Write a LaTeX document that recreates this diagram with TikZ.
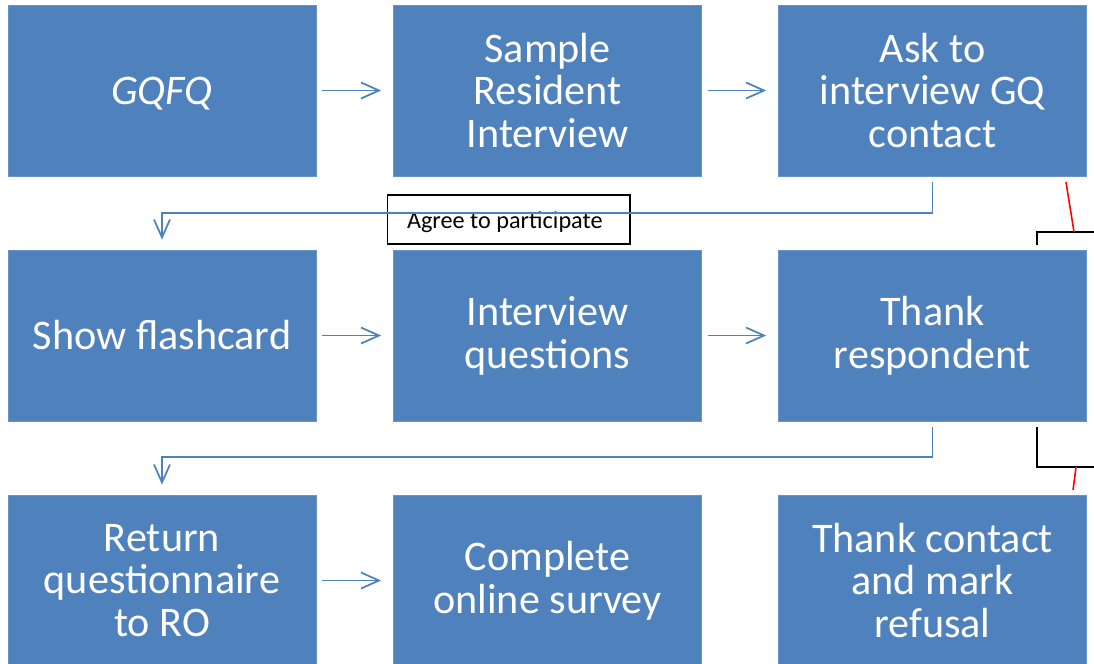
\documentclass[tikz,border=0pt]{standalone}
\usepackage{fontspec}
\setmainfont{Carlito}
\usetikzlibrary{arrows.meta}
\definecolor{boxblue}{HTML}{4F81BD}
\tikzset{
	stepbox/.style={rectangle, fill=boxblue, draw=boxblue!85!white, text=white, inner sep=0pt,
		minimum width=6.16cm, minimum height=3.42cm, align=center,
		font=\fontsize{24}{24.4}\selectfont},
	flow/.style={draw=boxblue, line width=1pt, -{Straight Barb[length=3.6mm,width=3.2mm]}},
	across/.style={flow, shorten <=0.12cm, shorten >=0.24cm},
	down/.style={flow, shorten <=0.12cm, shorten >=0.2cm},
	stray/.style={line width=0.9pt}
}

\begin{document}
\begin{tikzpicture}[x=0.02cm,y=-0.02cm]
	\useasboundingbox (0,0) rectangle (1094,663);
	\clip (0,0) rectangle (1094,663);
	% first row
	\node[stepbox] (gqfq) at (162,90.5) {\raisebox{-0.07cm}[\height][\depth]{\itshape GQFQ}};
	\node[stepbox] (sample) at (547.5,90.5) {Sample\\Resident\\Interview};
	\node[stepbox] (ask) at (932.5,90.5) {Ask to\\interview GQ\\contact};
	% second row
	\node[stepbox] (flash) at (162,335.5) {Show flashcard};
	\node[stepbox] (interview) at (547.5,335.5) {Interview\\questions};
	\node[stepbox] (thank) at (932.5,335.5) {Thank\\respondent};
	% third row
	\node[stepbox] (return) at (162,580.5) {Return\\questionnaire\\to RO};
	\node[stepbox] (online) at (547.5,580.5) {Complete\\online survey};
	\node[stepbox] (refusal) at (932.5,580.5) {Thank contact\\and mark\\refusal};
	% label on the first bend
	\node[draw=black, line width=0.6pt, minimum height=0.98cm, inner xsep=0.4cm,
		text width=4.06cm, align=flush left, text height=0.44cm, text depth=0.1cm, inner ysep=0pt,
		font=\fontsize{13.8}{16}\selectfont] (agree) at (508.5,219.5) {Agree to participate};
	% arrows along the rows
	\draw[across] (gqfq) -- (sample);
	\draw[across] (sample) -- (ask);
	\draw[across] (flash) -- (interview);
	\draw[across] (interview) -- (thank);
	\draw[across] (return) -- (online);
	% arrows down to the next row
	\draw[down] (ask.south) -- ++(0,37) -| (flash.north);
	\draw[down] (thank.south) -- ++(0,36) -| (return.north);
	% stray bits on the right
	\coordinate (topfoot) at (1037,245);
	\coordinate (botfoot) at (1037,427);
	\draw[stray] (topfoot) |- (1094,232);
	\draw[stray, red] (1066,182) -- (1074,232);
	\draw[stray] (botfoot) |- (1094,467);
	\draw[stray, red] (1076,467) -- (1073,490);
\end{tikzpicture}
\end{document}
